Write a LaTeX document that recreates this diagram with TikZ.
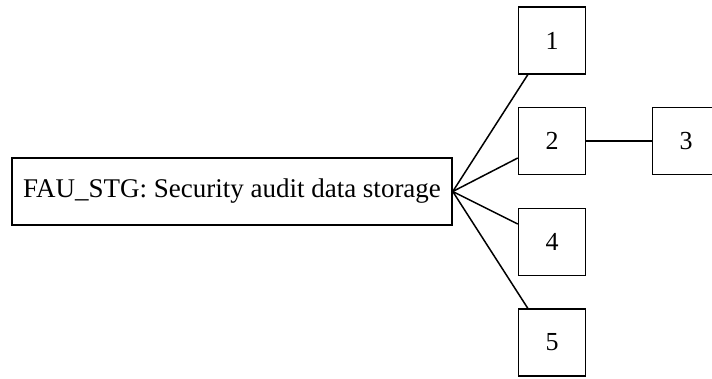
\documentclass[tikz,border=0pt]{standalone}
\usepackage{fontspec}
\setmainfont{Liberation Serif}
\usetikzlibrary{calc}
\begin{document}
\begin{tikzpicture}[x=1pt,y=-1pt,
  box/.style={draw,line width=1.5pt,inner sep=0pt,minimum width=67pt,minimum height=67pt,font=\fontsize{26}{30}\selectfont},
  mainbox/.style={draw,line width=1.5pt,inner sep=0pt,minimum width=440pt,minimum height=67pt,font=\fontsize{27}{31}\selectfont},
  conn/.style={line width=1.5pt}]
\useasboundingbox (0,0) rectangle (712,378);
\node[mainbox] (m) at (232,191.5) {FAU\_STG: Security audit data storage};
\node[box] (b1) at (552,40.5) {1};
\node[box] (b2) at (552,141) {2};
\node[box] (b3) at (686,141) {3};
\node[box] (b4) at (552,242) {4};
\node[box] (b5) at (552,342.5) {5};
\draw[conn] (m.east) -- ($(b1.south west)+(10,0)$);
\draw[conn] (m.east) -- ($(b2.west)+(0,17)$);
\draw[conn] (m.east) -- ($(b4.west)+(0,-18)$);
\draw[conn] (m.east) -- ($(b5.north west)+(10,0)$);
\draw[conn] (b2) -- (b3);
\end{tikzpicture}
\end{document}
